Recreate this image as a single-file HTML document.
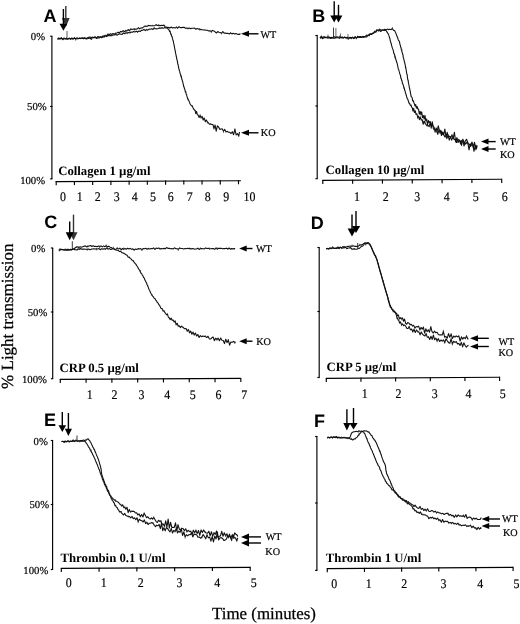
<!DOCTYPE html>
<html><head><meta charset="utf-8"><style>
html,body{margin:0;padding:0;background:#fff;width:520px;height:624px;overflow:hidden}
svg{display:block;will-change:transform}
text{fill:#000;text-rendering:geometricPrecision}
</style></head><body>
<svg width="520" height="624" viewBox="0 0 520 624">
<rect width="520" height="624" fill="#fff"/>
<text x="43.5" y="21.6" font-size="18" font-family="'Liberation Sans', sans-serif" font-weight="bold" text-anchor="start" >A</text>
<line x1="65.80" y1="6.10" x2="65.80" y2="18.90" stroke="#333" stroke-width="1.4"/>
<path d="M61.90,17.90 L69.70,17.90 L65.80,27.00 Z" fill="#333"/>
<line x1="63.40" y1="9.00" x2="63.40" y2="24.70" stroke="#000" stroke-width="1.4"/>
<path d="M59.50,23.70 L67.30,23.70 L63.40,30.80 Z" fill="#000"/>
<line x1="51.90" y1="36.20" x2="51.90" y2="178.90" stroke="#000" stroke-width="1.15"/>
<line x1="50.10" y1="36.20" x2="52.40" y2="36.20" stroke="#000" stroke-width="1.15"/>
<line x1="50.10" y1="106.50" x2="52.40" y2="106.50" stroke="#000" stroke-width="1.15"/>
<line x1="50.10" y1="178.90" x2="52.40" y2="178.90" stroke="#000" stroke-width="1.15"/>
<line x1="55.70" y1="181.60" x2="240.90" y2="180.70" stroke="#000" stroke-width="1.15"/>
<line x1="56.20" y1="181.10" x2="56.20" y2="185.20" stroke="#000" stroke-width="1.15"/>
<line x1="74.43" y1="181.01" x2="74.43" y2="185.11" stroke="#000" stroke-width="1.15"/>
<line x1="92.66" y1="180.92" x2="92.66" y2="185.02" stroke="#000" stroke-width="1.15"/>
<line x1="110.89" y1="180.83" x2="110.89" y2="184.93" stroke="#000" stroke-width="1.15"/>
<line x1="129.12" y1="180.74" x2="129.12" y2="184.84" stroke="#000" stroke-width="1.15"/>
<line x1="147.35" y1="180.65" x2="147.35" y2="184.75" stroke="#000" stroke-width="1.15"/>
<line x1="165.58" y1="180.56" x2="165.58" y2="184.66" stroke="#000" stroke-width="1.15"/>
<line x1="183.81" y1="180.47" x2="183.81" y2="184.57" stroke="#000" stroke-width="1.15"/>
<line x1="202.04" y1="180.38" x2="202.04" y2="184.48" stroke="#000" stroke-width="1.15"/>
<line x1="220.27" y1="180.29" x2="220.27" y2="184.39" stroke="#000" stroke-width="1.15"/>
<line x1="238.50" y1="180.20" x2="238.50" y2="184.30" stroke="#000" stroke-width="1.15"/>
<text transform="translate(63.0,200.9) scale(0.91,1)" font-size="13.1" font-family="'Liberation Serif', serif" text-anchor="middle" stroke="#000" stroke-width="0.18">0</text>
<text transform="translate(79.7,200.9) scale(0.91,1)" font-size="13.1" font-family="'Liberation Serif', serif" text-anchor="middle" stroke="#000" stroke-width="0.18">1</text>
<text transform="translate(97.7,200.9) scale(0.91,1)" font-size="13.1" font-family="'Liberation Serif', serif" text-anchor="middle" stroke="#000" stroke-width="0.18">2</text>
<text transform="translate(116.8,200.9) scale(0.91,1)" font-size="13.1" font-family="'Liberation Serif', serif" text-anchor="middle" stroke="#000" stroke-width="0.18">3</text>
<text transform="translate(134.6,200.9) scale(0.91,1)" font-size="13.1" font-family="'Liberation Serif', serif" text-anchor="middle" stroke="#000" stroke-width="0.18">4</text>
<text transform="translate(153.0,200.9) scale(0.91,1)" font-size="13.1" font-family="'Liberation Serif', serif" text-anchor="middle" stroke="#000" stroke-width="0.18">5</text>
<text transform="translate(170.8,200.9) scale(0.91,1)" font-size="13.1" font-family="'Liberation Serif', serif" text-anchor="middle" stroke="#000" stroke-width="0.18">6</text>
<text transform="translate(189.7,200.9) scale(0.91,1)" font-size="13.1" font-family="'Liberation Serif', serif" text-anchor="middle" stroke="#000" stroke-width="0.18">7</text>
<text transform="translate(207.7,200.9) scale(0.91,1)" font-size="13.1" font-family="'Liberation Serif', serif" text-anchor="middle" stroke="#000" stroke-width="0.18">8</text>
<text transform="translate(226.2,200.9) scale(0.91,1)" font-size="13.1" font-family="'Liberation Serif', serif" text-anchor="middle" stroke="#000" stroke-width="0.18">9</text>
<text transform="translate(249.4,200.9) scale(0.91,1)" font-size="13.1" font-family="'Liberation Serif', serif" text-anchor="middle" stroke="#000" stroke-width="0.18">10</text>
<text x="45.1" y="40.0" font-size="10.7" font-family="'Liberation Serif', serif" font-weight="normal" text-anchor="end" stroke="#000" stroke-width="0.2">0%</text>
<text x="46.7" y="109.8" font-size="10.7" font-family="'Liberation Serif', serif" font-weight="normal" text-anchor="end" stroke="#000" stroke-width="0.2">50%</text>
<text x="45.1" y="183.6" font-size="10.7" font-family="'Liberation Serif', serif" font-weight="normal" text-anchor="end" stroke="#000" stroke-width="0.2">100%</text>
<text x="58.2" y="175.0" font-size="12.75" font-family="'Liberation Serif', serif" font-weight="bold" text-anchor="start" >Collagen 1 µg/ml</text>
<line x1="67.00" y1="31.00" x2="67.00" y2="37.50" stroke="#333" stroke-width="0.8"/>
<path d="M57.50,39.09 L58.80,38.84 L60.10,38.92 L61.40,38.20 L62.70,39.04 L64.00,38.35 L65.30,38.80 L66.60,38.55 L67.90,39.07 L69.20,38.29 L70.50,38.67 L71.80,38.02 L73.10,38.69 L74.40,38.30 L75.69,39.04 L76.99,38.49 L78.29,38.62 L79.59,38.05 L80.89,38.18 L82.19,37.94 L83.49,38.29 L84.79,37.64 L86.08,38.99 L87.38,38.02 L88.68,37.22 L89.98,37.09 L91.27,37.55 L92.57,37.33 L93.87,37.46 L95.16,37.28 L96.46,38.38 L97.75,36.43 L99.05,37.02 L100.34,36.88 L101.62,36.99 L102.90,36.03 L104.17,36.12 L105.43,35.24 L106.68,35.79 L107.93,33.99 L109.19,34.69 L110.45,33.78 L111.72,34.39 L112.99,33.55 L114.26,34.13 L115.53,33.26 L116.81,33.20 L118.07,32.14 L119.34,32.98 L120.61,31.38 L121.87,31.94 L123.12,30.67 L124.38,31.78 L125.64,30.63 L126.89,30.95 L128.16,29.50 L129.43,30.85 L130.70,28.91 L131.99,29.53 L133.28,29.08 L134.57,29.42 L135.86,29.08 L137.15,29.06 L138.44,27.68 L139.72,28.88 L140.98,27.90 L142.20,27.96 L143.40,27.15 L144.60,26.32 L145.84,26.16 L147.11,26.44 L148.40,25.35 L149.69,25.66 L150.99,25.74 L152.28,25.72 L153.58,25.68 L154.88,25.42 L156.18,24.68 L157.48,25.43 L158.78,25.16 L160.08,25.81 L161.38,25.24 L162.68,25.49 L163.96,25.11 L165.13,26.84 L166.06,26.97 L167.30,27.41 L168.59,27.41 L169.89,27.87 L171.19,26.97 L172.49,27.99 L173.79,27.56 L175.09,28.11 L176.39,27.26 L177.69,28.19 L178.99,26.61 L180.29,27.67 L181.59,27.63 L182.89,27.40 L184.19,27.25 L185.49,28.33 L186.78,27.91 L188.08,28.53 L189.38,28.03 L190.67,28.65 L191.97,28.28 L193.26,28.30 L194.56,28.11 L195.85,29.27 L197.14,28.54 L198.43,29.08 L199.72,29.06 L201.00,29.66 L202.29,29.79 L203.57,29.95 L204.86,29.90 L206.14,30.31 L207.42,30.31 L208.70,31.02 L209.98,30.67 L211.26,31.55 L212.54,30.41 L213.82,30.90 L215.10,31.94 L216.38,33.03 L217.67,31.57 L218.95,32.26 L220.24,32.57 L221.54,33.37 L222.83,31.51 L224.12,33.11 L225.42,32.94 L226.71,33.40 L228.01,33.37 L229.30,34.04 L230.60,33.06 L231.89,33.87 L233.19,33.31 L234.48,33.95 L235.78,33.46 L237.07,34.10 L238.37,34.40 L239.67,34.33 L240.00,34.03" fill="none" stroke="#111" stroke-width="1.1" stroke-linejoin="round"/>
<path d="M66.6,37.1v2.1M75.7,38.3v2.3M83.5,37.5v1.6M93.9,36.6v1.9M104.2,34.9v2.6M115.5,32.7v1.3M125.6,29.8v2.1M134.6,28.0v2.5M144.6,25.9v1.3M152.3,24.8v1.4M158.8,24.6v1.7M169.9,27.5v1.3M176.4,26.4v1.6M188.1,27.9v1.6M199.7,28.3v2.2M211.3,30.7v2.4M221.5,32.8v1.5M230.6,32.1v1.9M240.0,33.1v1.5" stroke="#333" stroke-width="0.8" fill="none"/>
<path d="M57.50,39.06 L58.80,37.91 L60.10,38.74 L61.40,37.68 L62.70,39.78 L64.00,38.36 L65.30,38.83 L66.60,38.72 L67.90,39.13 L69.20,38.23 L70.50,39.43 L71.80,38.47 L73.10,39.19 L74.40,37.69 L75.70,38.84 L77.00,38.08 L78.30,38.74 L79.60,38.33 L80.90,38.59 L82.20,37.93 L83.50,38.75 L84.80,38.30 L86.09,38.74 L87.39,37.94 L88.69,38.42 L89.99,37.89 L91.29,39.44 L92.59,37.34 L93.89,37.68 L95.18,36.82 L96.48,38.24 L97.78,37.54 L99.07,38.08 L100.37,37.02 L101.66,37.74 L102.94,36.95 L104.21,36.94 L105.47,35.74 L106.73,36.61 L107.98,35.39 L109.25,35.75 L110.53,35.55 L111.82,35.73 L113.11,34.68 L114.40,34.97 L115.70,34.52 L116.99,35.06 L118.28,34.59 L119.57,33.83 L120.85,34.29 L122.13,34.37 L123.41,32.94 L124.68,33.77 L125.95,32.76 L127.23,32.93 L128.51,32.54 L129.79,32.96 L131.07,32.00 L132.36,32.30 L133.65,31.49 L134.95,32.10 L136.24,31.10 L137.53,31.98 L138.82,30.96 L140.11,31.49 L141.39,30.37 L142.67,30.31 L143.95,29.37 L145.23,30.59 L146.51,29.53 L147.79,30.18 L149.07,29.16 L150.36,29.29 L151.65,28.82 L152.94,29.46 L154.23,28.22 L155.52,28.68 L156.81,28.85 L158.10,28.50 L159.40,27.88 L160.69,28.33 L161.98,27.79 L163.28,28.36 L164.58,27.60 L165.87,27.96 L167.11,27.68 L168.05,28.99 L168.83,29.62 L169.50,31.43 L170.11,31.06 L170.66,33.80 L171.17,34.15 L171.63,36.29 L172.04,36.38 L172.40,38.39 L172.72,39.26 L173.02,40.66 L173.31,40.98 L173.59,43.18 L173.87,43.94 L174.16,45.42 L174.43,46.87 L174.70,48.73 L174.96,49.18 L175.21,51.22 L175.47,52.43 L175.72,53.94 L175.97,54.38 L176.22,56.51 L176.48,56.72 L176.74,59.17 L177.00,59.14 L177.26,61.27 L177.53,61.85 L177.79,64.08 L178.06,64.37 L178.33,66.03 L178.61,67.74 L178.90,68.95 L179.21,69.80 L179.53,71.14 L179.88,72.05 L180.25,74.03 L180.63,74.56 L181.01,76.48 L181.39,76.59 L181.76,79.05 L182.11,79.75 L182.44,80.99 L182.77,81.99 L183.10,83.72 L183.43,84.76 L183.77,86.84 L184.13,87.08 L184.50,88.85 L184.90,89.56 L185.32,91.90 L185.73,91.65 L186.11,94.02 L186.48,94.22 L186.87,95.88 L187.28,97.31 L187.74,98.99 L188.27,99.82 L188.85,100.67 L189.49,102.33 L190.16,104.01 L190.86,105.02 L191.56,105.99 L192.26,105.79 L192.95,107.66 L193.64,108.88 L194.34,110.09 L195.05,110.04 L195.77,113.54 L196.53,111.48 L197.33,114.58 L198.19,115.25 L199.12,117.51 L200.10,115.37 L201.12,118.02 L202.15,116.38 L203.19,120.04 L204.22,117.95 L205.27,121.63 L206.33,119.94 L207.41,122.01 L208.49,123.00 L209.58,124.27 L210.67,123.89 L211.76,124.44 L212.86,124.51 L213.96,128.35 L215.08,125.03 L216.22,131.23 L217.38,125.91 L218.57,127.02 L219.79,129.35 L221.02,128.99 L222.27,128.90 L223.52,131.29 L224.77,129.38 L226.02,131.94 L227.28,131.37 L228.53,132.28 L229.79,132.30 L231.05,133.51 L232.31,131.70 L233.59,134.71 L234.87,129.27 L236.16,134.99 L237.46,133.49 L238.76,136.16 L239.50,132.02" fill="none" stroke="#111" stroke-width="1.1" stroke-linejoin="round"/>
<path d="M64.0,37.5v1.9M77.0,37.1v1.6M87.4,37.2v2.2M97.8,36.2v2.6M105.5,35.2v1.3M117.0,34.7v1.2M127.2,31.8v2.4M137.5,31.3v1.6M146.5,28.8v1.5M154.2,26.8v2.5M162.0,26.9v1.5M170.7,33.3v1.6M181.0,75.2v2.0M188.3,98.4v2.3M200.1,114.3v2.2M207.4,121.4v2.1M214.0,127.7v1.8M223.5,130.4v2.4M234.9,128.4v2.6" stroke="#333" stroke-width="0.8" fill="none"/>
<path d="M241.00,33.80 L249.00,30.81 L249.00,36.79 Z" fill="#000"/>
<line x1="248.50" y1="33.80" x2="258.50" y2="33.80" stroke="#000" stroke-width="1.4"/>
<path d="M241.00,132.80 L249.00,129.81 L249.00,135.79 Z" fill="#000"/>
<line x1="248.50" y1="132.80" x2="258.50" y2="132.80" stroke="#000" stroke-width="1.4"/>
<text x="260.5" y="37.5" font-size="10.2" font-family="'Liberation Serif', serif" font-weight="normal" text-anchor="start" stroke="#000" stroke-width="0.2">WT</text>
<text x="260.8" y="136.4" font-size="10.2" font-family="'Liberation Serif', serif" font-weight="normal" text-anchor="start" stroke="#000" stroke-width="0.2">KO</text>
<text x="312.2" y="22.0" font-size="18" font-family="'Liberation Sans', sans-serif" font-weight="bold" text-anchor="start" >B</text>
<line x1="338.50" y1="4.80" x2="338.50" y2="16.40" stroke="#000" stroke-width="1.4"/>
<path d="M334.60,15.40 L342.40,15.40 L338.50,22.40 Z" fill="#000"/>
<line x1="334.20" y1="1.30" x2="334.20" y2="16.40" stroke="#000" stroke-width="1.4"/>
<path d="M330.30,15.40 L338.10,15.40 L334.20,22.40 Z" fill="#000"/>
<line x1="317.20" y1="35.50" x2="317.20" y2="178.70" stroke="#000" stroke-width="1.15"/>
<line x1="315.40" y1="35.50" x2="317.70" y2="35.50" stroke="#000" stroke-width="1.15"/>
<line x1="315.40" y1="106.00" x2="317.70" y2="106.00" stroke="#000" stroke-width="1.15"/>
<line x1="315.40" y1="178.70" x2="317.70" y2="178.70" stroke="#000" stroke-width="1.15"/>
<line x1="322.30" y1="180.40" x2="501.72" y2="179.30" stroke="#000" stroke-width="1.15"/>
<line x1="322.80" y1="179.90" x2="322.80" y2="184.00" stroke="#000" stroke-width="1.15"/>
<line x1="352.62" y1="179.72" x2="352.62" y2="183.82" stroke="#000" stroke-width="1.15"/>
<line x1="382.44" y1="179.53" x2="382.44" y2="183.63" stroke="#000" stroke-width="1.15"/>
<line x1="412.26" y1="179.35" x2="412.26" y2="183.45" stroke="#000" stroke-width="1.15"/>
<line x1="442.08" y1="179.17" x2="442.08" y2="183.27" stroke="#000" stroke-width="1.15"/>
<line x1="471.90" y1="178.98" x2="471.90" y2="183.08" stroke="#000" stroke-width="1.15"/>
<line x1="501.72" y1="178.80" x2="501.72" y2="182.90" stroke="#000" stroke-width="1.15"/>
<text transform="translate(357.0,200.8) scale(0.91,1)" font-size="13.1" font-family="'Liberation Serif', serif" text-anchor="middle" stroke="#000" stroke-width="0.18">1</text>
<text transform="translate(385.6,200.8) scale(0.91,1)" font-size="13.1" font-family="'Liberation Serif', serif" text-anchor="middle" stroke="#000" stroke-width="0.18">2</text>
<text transform="translate(417.1,200.8) scale(0.91,1)" font-size="13.1" font-family="'Liberation Serif', serif" text-anchor="middle" stroke="#000" stroke-width="0.18">3</text>
<text transform="translate(446.8,200.8) scale(0.91,1)" font-size="13.1" font-family="'Liberation Serif', serif" text-anchor="middle" stroke="#000" stroke-width="0.18">4</text>
<text transform="translate(475.8,200.8) scale(0.91,1)" font-size="13.1" font-family="'Liberation Serif', serif" text-anchor="middle" stroke="#000" stroke-width="0.18">5</text>
<text transform="translate(504.7,200.8) scale(0.91,1)" font-size="13.1" font-family="'Liberation Serif', serif" text-anchor="middle" stroke="#000" stroke-width="0.18">6</text>
<text x="325.6" y="173.7" font-size="12.75" font-family="'Liberation Serif', serif" font-weight="bold" text-anchor="start" >Collagen 10 µg/ml</text>
<line x1="333.50" y1="27.60" x2="333.50" y2="37.00" stroke="#222" stroke-width="0.9"/>
<line x1="335.90" y1="28.00" x2="335.90" y2="37.00" stroke="#555" stroke-width="0.9"/>
<line x1="328.00" y1="34.50" x2="328.00" y2="37.00" stroke="#444" stroke-width="0.8"/>
<line x1="340.50" y1="33.50" x2="340.50" y2="37.00" stroke="#444" stroke-width="0.8"/>
<line x1="348.00" y1="34.00" x2="348.00" y2="37.00" stroke="#444" stroke-width="0.8"/>
<path d="M320.00,38.27 L321.30,35.98 L322.60,37.98 L323.90,36.50 L325.20,37.35 L326.50,37.25 L327.80,36.95 L329.10,37.10 L330.40,37.41 L331.70,38.19 L333.00,37.48 L334.30,36.71 L335.60,37.58 L336.90,36.82 L338.20,37.35 L339.50,36.93 L340.80,37.80 L342.10,36.92 L343.40,37.79 L344.70,37.09 L346.00,37.67 L347.29,37.83 L348.59,38.40 L349.89,37.36 L351.19,37.57 L352.49,37.53 L353.79,38.56 L355.09,36.99 L356.39,37.85 L357.68,37.20 L358.98,36.83 L360.27,36.45 L361.57,37.08 L362.85,36.50 L364.14,36.61 L365.41,36.16 L366.66,35.12 L367.88,35.65 L369.06,34.62 L370.21,33.70 L371.36,34.01 L372.50,33.12 L373.59,32.97 L374.65,31.18 L375.73,31.27 L376.87,29.76 L378.11,30.67 L379.40,29.14 L380.70,29.82 L382.00,30.04 L383.30,30.13 L384.60,29.30 L385.90,30.02 L387.19,29.11 L388.49,29.60 L389.79,29.26 L391.09,29.66 L392.39,28.53 L393.63,30.45 L394.70,30.61 L395.29,31.88 L395.70,32.91 L396.18,34.11 L396.70,35.53 L397.20,36.83 L397.69,37.61 L398.17,39.72 L398.62,40.39 L399.06,41.02 L399.49,41.82 L399.90,44.21 L400.29,45.08 L400.66,47.17 L401.01,47.45 L401.35,50.00 L401.69,49.81 L402.01,52.22 L402.33,52.75 L402.64,54.21 L402.95,54.43 L403.25,57.73 L403.55,58.04 L403.85,59.36 L404.14,60.37 L404.43,62.04 L404.72,62.55 L405.00,64.36 L405.27,64.96 L405.53,67.65 L405.78,67.29 L406.01,69.13 L406.24,70.12 L406.47,72.21 L406.69,73.30 L406.93,74.34 L407.17,74.46 L407.41,77.10 L407.64,78.54 L407.87,80.21 L408.10,79.88 L408.34,82.09 L408.58,83.45 L408.84,84.63 L409.10,85.56 L409.37,87.95 L409.64,88.30 L409.92,90.44 L410.19,90.74 L410.48,93.37 L410.78,94.45 L411.09,95.95 L411.43,96.70 L411.80,97.33 L412.22,97.92 L412.69,100.82 L413.20,100.54 L413.77,102.25 L414.39,103.93 L415.04,105.98 L415.70,104.56 L416.38,108.11 L417.08,106.51 L417.80,109.02 L418.55,109.09 L419.31,114.20 L420.09,111.32 L420.89,114.49 L421.69,111.93 L422.50,117.67 L423.32,115.57 L424.15,119.16 L424.98,115.43 L425.83,121.15 L426.69,118.97 L427.55,124.64 L428.44,120.50 L429.34,122.49 L430.26,121.57 L431.20,125.78 L432.16,123.60 L433.14,125.95 L434.13,127.32 L435.14,132.22 L436.17,127.91 L437.20,131.26 L438.25,125.90 L439.31,130.22 L440.40,130.52 L441.49,135.52 L442.61,131.99 L443.73,134.54 L444.87,129.15 L446.02,137.07 L447.19,132.35 L448.37,137.09 L449.56,136.24 L450.76,137.48 L451.97,134.92 L453.18,138.54 L454.40,132.20 L455.63,141.85 L456.87,137.67 L458.11,142.56 L459.36,140.11 L460.61,143.86 L461.87,140.30 L463.12,140.33 L464.38,142.43 L465.64,144.10 L466.91,142.15 L468.17,143.90 L469.44,144.19 L470.70,146.36 L471.97,141.94 L473.24,147.36 L474.51,142.31 L475.77,148.88 L477.00,145.02" fill="none" stroke="#111" stroke-width="1.1" stroke-linejoin="round"/>
<path d="M327.8,36.2v1.5M339.5,35.7v1.9M347.3,37.0v2.4M355.1,36.1v2.2M362.9,35.7v1.3M369.1,33.8v1.3M380.7,29.2v1.7M392.4,27.2v2.3M401.7,48.5v1.9M411.1,95.5v1.3M420.9,113.3v2.2M432.2,122.9v1.6M440.4,129.8v1.7M452.0,134.4v1.4M463.1,139.6v1.8M475.8,147.9v2.5" stroke="#333" stroke-width="0.8" fill="none"/>
<path d="M320.00,38.16 L321.30,37.44 L322.60,38.70 L323.90,37.67 L325.20,37.38 L326.50,37.71 L327.80,37.86 L329.10,37.77 L330.40,38.39 L331.70,37.21 L333.00,38.17 L334.30,38.10 L335.60,37.93 L336.90,37.76 L338.20,37.77 L339.50,38.20 L340.80,37.26 L342.10,37.90 L343.40,38.02 L344.70,37.32 L346.00,38.11 L347.30,37.23 L348.60,38.22 L349.90,37.86 L351.19,38.60 L352.49,37.06 L353.79,38.39 L355.09,36.89 L356.39,38.34 L357.69,36.23 L358.99,37.58 L360.29,37.37 L361.58,37.45 L362.87,36.92 L364.16,37.16 L365.44,36.74 L366.69,36.90 L367.92,35.24 L369.10,35.55 L370.25,34.16 L371.41,34.54 L372.57,33.85 L373.69,33.07 L374.78,32.05 L375.90,32.14 L377.07,30.13 L378.32,30.89 L379.60,30.45 L380.90,31.46 L382.20,29.99 L383.50,30.31 L384.79,30.33 L385.95,30.51 L386.81,31.62 L387.53,32.99 L388.15,33.65 L388.69,35.15 L389.16,36.30 L389.56,37.79 L389.91,38.67 L390.24,40.81 L390.56,41.28 L390.88,42.99 L391.20,43.23 L391.55,45.43 L391.91,46.45 L392.28,47.74 L392.66,48.92 L393.05,49.92 L393.44,50.93 L393.83,53.60 L394.21,53.72 L394.60,54.79 L394.98,56.78 L395.36,57.76 L395.73,58.73 L396.10,60.54 L396.45,61.20 L396.80,62.56 L397.14,63.04 L397.48,65.02 L397.81,66.23 L398.15,68.45 L398.48,69.25 L398.81,69.95 L399.14,71.38 L399.48,72.57 L399.81,73.71 L400.16,74.79 L400.52,75.61 L400.88,78.44 L401.25,78.45 L401.64,80.47 L402.03,80.72 L402.43,83.30 L402.82,83.81 L403.22,85.12 L403.62,86.27 L404.01,88.02 L404.39,88.53 L404.77,90.57 L405.13,90.89 L405.50,93.20 L405.86,93.61 L406.23,95.29 L406.61,96.32 L407.00,98.15 L407.41,98.58 L407.87,99.50 L408.37,101.07 L408.95,102.98 L409.62,103.46 L410.31,105.33 L410.97,105.17 L411.63,107.14 L412.31,107.95 L413.01,111.11 L413.73,108.28 L414.49,112.54 L415.28,110.87 L416.08,114.56 L416.90,113.83 L417.74,117.55 L418.59,116.07 L419.46,119.67 L420.35,116.90 L421.27,120.08 L422.20,119.71 L423.15,124.25 L424.12,120.99 L425.11,123.33 L426.10,124.68 L427.11,126.01 L428.13,125.53 L429.15,126.62 L430.19,122.30 L431.24,128.19 L432.31,121.71 L433.38,128.89 L434.47,129.39 L435.56,130.13 L436.67,131.28 L437.77,134.25 L438.88,129.86 L440.00,133.18 L441.13,130.70 L442.27,134.24 L443.41,134.37 L444.56,136.61 L445.72,135.74 L446.89,138.57 L448.07,134.80 L449.26,140.14 L450.46,136.86 L451.66,140.14 L452.87,136.83 L454.09,139.65 L455.32,139.26 L456.56,142.53 L457.80,139.03 L459.05,140.30 L460.30,140.77 L461.55,145.44 L462.79,139.42 L464.04,146.05 L465.28,140.81 L466.52,139.29 L467.77,142.18 L469.01,149.86 L470.26,143.75 L471.50,145.16 L472.74,143.83 L473.99,151.30 L475.23,145.28 L476.48,148.85 L477.00,145.98" fill="none" stroke="#111" stroke-width="1.1" stroke-linejoin="round"/>
<path d="M327.8,36.7v2.0M339.5,37.3v1.2M348.6,37.4v2.5M356.4,37.3v2.0M369.1,34.9v1.6M379.6,29.5v1.4M387.5,32.3v1.2M395.0,55.9v2.5M404.0,87.0v2.0M411.0,104.5v1.9M417.7,116.6v2.5M425.1,122.5v1.2M436.7,129.9v2.2M444.6,135.4v2.0M452.9,135.5v2.2M462.8,138.8v2.1M471.5,144.4v1.7" stroke="#333" stroke-width="0.8" fill="none"/>
<path d="M481.00,141.60 L488.50,138.61 L488.50,144.59 Z" fill="#000"/>
<line x1="488.00" y1="141.60" x2="495.70" y2="141.60" stroke="#000" stroke-width="1.4"/>
<path d="M481.00,149.00 L488.50,146.01 L488.50,151.99 Z" fill="#000"/>
<line x1="488.00" y1="149.00" x2="495.70" y2="149.00" stroke="#000" stroke-width="1.4"/>
<text x="500.0" y="144.8" font-size="10.2" font-family="'Liberation Serif', serif" font-weight="normal" text-anchor="start" stroke="#000" stroke-width="0.2">WT</text>
<text x="500.0" y="157.8" font-size="10.2" font-family="'Liberation Serif', serif" font-weight="normal" text-anchor="start" stroke="#000" stroke-width="0.2">KO</text>
<text x="44.3" y="228.4" font-size="18" font-family="'Liberation Sans', sans-serif" font-weight="bold" text-anchor="start" >C</text>
<line x1="73.50" y1="214.60" x2="73.50" y2="233.30" stroke="#333" stroke-width="1.4"/>
<path d="M69.50,232.30 L77.50,232.30 L73.50,240.30 Z" fill="#333"/>
<line x1="69.70" y1="221.50" x2="69.70" y2="233.30" stroke="#000" stroke-width="1.4"/>
<path d="M65.70,232.30 L73.70,232.30 L69.70,240.30 Z" fill="#000"/>
<line x1="52.70" y1="248.00" x2="52.70" y2="378.70" stroke="#000" stroke-width="1.15"/>
<line x1="50.90" y1="248.00" x2="53.20" y2="248.00" stroke="#000" stroke-width="1.15"/>
<line x1="50.90" y1="312.00" x2="53.20" y2="312.00" stroke="#000" stroke-width="1.15"/>
<line x1="50.90" y1="378.70" x2="53.20" y2="378.70" stroke="#000" stroke-width="1.15"/>
<line x1="59.80" y1="379.40" x2="240.83" y2="378.40" stroke="#000" stroke-width="1.15"/>
<line x1="60.30" y1="378.90" x2="60.30" y2="383.00" stroke="#000" stroke-width="1.15"/>
<line x1="86.09" y1="378.76" x2="86.09" y2="382.86" stroke="#000" stroke-width="1.15"/>
<line x1="111.88" y1="378.61" x2="111.88" y2="382.71" stroke="#000" stroke-width="1.15"/>
<line x1="137.67" y1="378.47" x2="137.67" y2="382.57" stroke="#000" stroke-width="1.15"/>
<line x1="163.46" y1="378.33" x2="163.46" y2="382.43" stroke="#000" stroke-width="1.15"/>
<line x1="189.25" y1="378.19" x2="189.25" y2="382.29" stroke="#000" stroke-width="1.15"/>
<line x1="215.04" y1="378.04" x2="215.04" y2="382.14" stroke="#000" stroke-width="1.15"/>
<line x1="240.83" y1="377.90" x2="240.83" y2="382.00" stroke="#000" stroke-width="1.15"/>
<text transform="translate(89.7,399.2) scale(0.91,1)" font-size="13.1" font-family="'Liberation Serif', serif" text-anchor="middle" stroke="#000" stroke-width="0.18">1</text>
<text transform="translate(114.5,399.2) scale(0.91,1)" font-size="13.1" font-family="'Liberation Serif', serif" text-anchor="middle" stroke="#000" stroke-width="0.18">2</text>
<text transform="translate(141.5,399.2) scale(0.91,1)" font-size="13.1" font-family="'Liberation Serif', serif" text-anchor="middle" stroke="#000" stroke-width="0.18">3</text>
<text transform="translate(167.2,399.2) scale(0.91,1)" font-size="13.1" font-family="'Liberation Serif', serif" text-anchor="middle" stroke="#000" stroke-width="0.18">4</text>
<text transform="translate(192.6,399.2) scale(0.91,1)" font-size="13.1" font-family="'Liberation Serif', serif" text-anchor="middle" stroke="#000" stroke-width="0.18">5</text>
<text transform="translate(218.5,399.2) scale(0.91,1)" font-size="13.1" font-family="'Liberation Serif', serif" text-anchor="middle" stroke="#000" stroke-width="0.18">6</text>
<text transform="translate(244.3,399.2) scale(0.91,1)" font-size="13.1" font-family="'Liberation Serif', serif" text-anchor="middle" stroke="#000" stroke-width="0.18">7</text>
<text x="45.3" y="252.4" font-size="10.7" font-family="'Liberation Serif', serif" font-weight="normal" text-anchor="end" stroke="#000" stroke-width="0.2">0%</text>
<text x="47.3" y="315.6" font-size="10.7" font-family="'Liberation Serif', serif" font-weight="normal" text-anchor="end" stroke="#000" stroke-width="0.2">50%</text>
<text x="46.9" y="383.2" font-size="10.7" font-family="'Liberation Serif', serif" font-weight="normal" text-anchor="end" stroke="#000" stroke-width="0.2">100%</text>
<text x="59.6" y="372.2" font-size="12.75" font-family="'Liberation Serif', serif" font-weight="bold" text-anchor="start" >CRP 0.5 µg/ml</text>
<line x1="72.30" y1="241.20" x2="72.30" y2="249.00" stroke="#222" stroke-width="0.9"/>
<path d="M58.75,249.45 L60.05,249.01 L61.35,249.81 L62.65,249.53 L63.95,250.07 L65.25,249.32 L66.55,249.87 L67.85,249.27 L69.15,250.12 L70.45,249.17 L71.75,249.84 L73.05,248.73 L74.35,249.60 L75.65,249.74 L76.95,250.00 L78.25,248.75 L79.55,249.46 L80.85,248.47 L82.15,249.39 L83.45,249.05 L84.75,249.16 L86.05,249.24 L87.35,249.51 L88.65,248.98 L89.95,249.65 L91.25,249.17 L92.55,249.07 L93.85,248.70 L95.15,248.93 L96.45,248.84 L97.75,249.00 L99.05,248.54 L100.35,249.74 L101.65,248.69 L102.95,249.13 L104.25,248.65 L105.55,249.22 L106.85,247.89 L108.15,249.26 L109.45,248.60 L110.75,249.50 L112.05,249.12 L113.35,248.55 L114.65,249.01 L115.95,249.30 L117.25,248.22 L118.55,249.11 L119.85,248.11 L121.15,249.75 L122.45,248.50 L123.75,249.31 L125.05,248.56 L126.35,249.20 L127.65,248.23 L128.95,248.89 L130.25,248.32 L131.55,249.34 L132.85,248.86 L134.15,250.03 L135.45,248.94 L136.75,249.44 L138.05,248.62 L139.35,249.10 L140.65,248.55 L141.95,249.79 L143.25,248.44 L144.55,248.77 L145.85,248.31 L147.15,249.21 L148.45,248.39 L149.75,248.93 L151.05,248.52 L152.35,248.78 L153.65,247.87 L154.95,249.48 L156.25,248.07 L157.55,248.49 L158.85,247.97 L160.15,248.95 L161.45,248.54 L162.75,248.71 L164.05,248.37 L165.35,248.79 L166.65,247.45 L167.95,248.40 L169.25,248.37 L170.55,248.79 L171.85,248.50 L173.15,249.03 L174.45,247.79 L175.75,248.66 L177.05,248.68 L178.35,249.31 L179.65,247.93 L180.95,248.53 L182.25,248.49 L183.55,248.91 L184.85,248.56 L186.15,248.69 L187.45,248.26 L188.75,248.59 L190.05,248.39 L191.35,248.88 L192.65,248.50 L193.95,249.08 L195.25,248.96 L196.55,248.94 L197.85,248.16 L199.15,249.47 L200.45,248.45 L201.75,248.58 L203.05,248.78 L204.35,248.90 L205.65,247.89 L206.95,248.46 L208.25,248.22 L209.55,248.71 L210.85,248.73 L212.15,248.58 L213.45,248.57 L214.75,249.35 L216.05,247.94 L217.35,249.07 L218.65,248.20 L219.95,248.40 L221.25,248.27 L222.54,248.70 L223.84,248.54 L225.14,248.58 L226.44,248.15 L227.74,248.97 L229.04,247.99 L230.34,249.13 L231.64,248.62 L232.94,248.87 L234.24,248.50 L235.00,249.24" fill="none" stroke="#111" stroke-width="1.1" stroke-linejoin="round"/>
<path d="M67.8,248.6v1.6M79.5,248.2v1.9M87.3,248.4v2.3M96.4,248.0v2.4M105.5,248.5v1.5M117.2,247.1v1.8M123.7,247.5v2.6M134.1,249.2v1.5M141.9,249.2v1.7M148.4,247.9v1.4M160.1,248.0v1.5M166.6,247.0v1.3M178.3,248.6v2.3M190.0,247.8v1.5M200.4,247.4v1.5M209.5,247.6v2.0M217.3,247.5v2.2M227.7,248.2v1.3" stroke="#333" stroke-width="0.8" fill="none"/>
<path d="M58.75,251.09 L60.05,250.11 L61.35,249.21 L62.65,249.53 L63.95,250.07 L65.25,249.90 L66.55,250.11 L67.85,250.11 L69.15,250.03 L70.45,249.71 L71.74,249.91 L73.01,248.96 L74.19,249.06 L75.22,247.69 L76.35,247.18 L77.60,246.68 L78.89,247.45 L80.18,246.69 L81.48,247.22 L82.78,246.79 L84.08,246.24 L85.38,245.88 L86.68,246.90 L87.98,246.24 L89.28,246.05 L90.58,245.54 L91.88,246.47 L93.18,245.69 L94.48,246.54 L95.78,246.28 L97.08,246.73 L98.38,246.10 L99.68,246.63 L100.98,245.91 L102.28,246.93 L103.58,245.89 L104.87,246.67 L106.17,245.74 L107.47,247.01 L108.76,246.08 L110.02,247.19 L111.23,247.49 L112.29,248.34 L113.39,248.28 L114.58,249.55 L115.80,250.05 L117.03,250.23 L118.25,250.44 L119.47,251.55 L120.67,251.16 L121.84,252.76 L122.96,252.85 L124.02,253.52 L125.06,254.05 L126.10,254.85 L127.14,255.34 L128.18,257.29 L129.21,257.17 L130.22,258.36 L131.22,259.08 L132.19,260.30 L133.13,260.56 L134.01,262.16 L134.83,263.16 L135.59,263.84 L136.31,264.90 L136.99,266.00 L137.65,266.97 L138.30,268.41 L138.96,269.23 L139.63,270.56 L140.31,271.47 L140.99,273.19 L141.66,273.64 L142.32,274.95 L142.97,275.89 L143.61,277.56 L144.23,277.89 L144.83,279.86 L145.42,280.77 L145.97,282.16 L146.49,282.63 L146.99,284.74 L147.49,285.28 L147.98,286.52 L148.47,287.82 L148.98,289.25 L149.50,290.32 L150.06,291.40 L150.64,292.68 L151.27,294.01 L151.95,295.06 L152.67,296.09 L153.42,296.92 L154.19,298.34 L154.97,298.60 L155.77,300.12 L156.56,300.92 L157.34,302.55 L158.11,303.08 L158.84,304.80 L159.55,305.28 L160.25,306.88 L160.94,308.14 L161.64,308.46 L162.36,308.99 L163.12,311.15 L163.91,310.65 L164.74,312.34 L165.61,313.46 L166.50,314.80 L167.41,313.89 L168.33,317.09 L169.28,317.96 L170.23,319.64 L171.20,318.11 L172.17,320.33 L173.15,319.98 L174.14,322.01 L175.14,320.91 L176.15,324.82 L177.18,323.21 L178.21,325.97 L179.27,325.91 L180.35,327.57 L181.46,326.11 L182.60,327.01 L183.75,327.97 L184.92,328.84 L186.09,328.48 L187.26,330.92 L188.41,329.49 L189.57,332.84 L190.72,331.18 L191.87,334.27 L193.04,332.09 L194.22,335.07 L195.41,333.08 L196.63,336.03 L197.86,334.62 L199.10,337.42 L200.35,335.58 L201.61,336.69 L202.87,336.02 L204.15,336.42 L205.44,336.37 L206.73,337.54 L208.02,336.26 L209.31,338.88 L210.59,339.06 L211.86,337.82 L213.12,337.04 L214.38,340.66 L215.63,338.16 L216.88,339.71 L218.14,338.12 L219.40,340.73 L220.67,338.07 L221.93,340.24 L223.20,340.45 L224.47,343.61 L225.75,339.27 L227.03,342.62 L228.32,339.92 L229.61,345.11 L230.90,341.94 L232.19,342.33 L233.48,341.38 L234.77,342.69 L235.40,341.71" fill="none" stroke="#111" stroke-width="1.1" stroke-linejoin="round"/>
<path d="M65.2,248.7v2.3M76.3,246.1v1.8M88.0,245.0v2.3M99.7,245.7v2.3M106.2,244.6v2.5M113.4,246.7v2.4M124.0,252.6v1.3M133.1,260.1v1.3M140.3,269.9v2.4M152.0,294.2v1.7M162.4,308.5v1.7M169.3,317.3v1.3M178.2,325.6v1.2M187.3,329.9v2.1M197.9,334.0v2.0M205.4,335.5v1.7M216.9,338.1v2.4M228.3,339.0v1.8M234.8,341.3v2.5" stroke="#333" stroke-width="0.8" fill="none"/>
<path d="M239.20,248.50 L246.70,245.51 L246.70,251.49 Z" fill="#000"/>
<line x1="246.20" y1="248.50" x2="252.50" y2="248.50" stroke="#000" stroke-width="1.4"/>
<path d="M239.20,341.20 L246.70,338.21 L246.70,344.19 Z" fill="#000"/>
<line x1="246.20" y1="341.20" x2="252.50" y2="341.20" stroke="#000" stroke-width="1.4"/>
<text x="256.0" y="252.2" font-size="10.2" font-family="'Liberation Serif', serif" font-weight="normal" text-anchor="start" stroke="#000" stroke-width="0.2">WT</text>
<text x="256.2" y="345.2" font-size="10.2" font-family="'Liberation Serif', serif" font-weight="normal" text-anchor="start" stroke="#000" stroke-width="0.2">KO</text>
<text x="310.8" y="228.9" font-size="18" font-family="'Liberation Sans', sans-serif" font-weight="bold" text-anchor="start" >D</text>
<line x1="356.00" y1="211.00" x2="356.00" y2="227.00" stroke="#000" stroke-width="1.4"/>
<path d="M351.80,226.00 L360.20,226.00 L356.00,233.00 Z" fill="#000"/>
<line x1="352.00" y1="214.60" x2="352.00" y2="229.50" stroke="#000" stroke-width="1.4"/>
<path d="M347.60,228.50 L356.40,228.50 L352.00,236.50 Z" fill="#000"/>
<line x1="319.20" y1="247.50" x2="319.20" y2="377.50" stroke="#000" stroke-width="1.15"/>
<line x1="317.40" y1="247.50" x2="319.70" y2="247.50" stroke="#000" stroke-width="1.15"/>
<line x1="317.40" y1="311.50" x2="319.70" y2="311.50" stroke="#000" stroke-width="1.15"/>
<line x1="317.40" y1="377.50" x2="319.70" y2="377.50" stroke="#000" stroke-width="1.15"/>
<line x1="325.80" y1="378.40" x2="499.60" y2="377.30" stroke="#000" stroke-width="1.15"/>
<line x1="326.30" y1="377.90" x2="326.30" y2="382.00" stroke="#000" stroke-width="1.15"/>
<line x1="360.96" y1="377.68" x2="360.96" y2="381.78" stroke="#000" stroke-width="1.15"/>
<line x1="395.62" y1="377.46" x2="395.62" y2="381.56" stroke="#000" stroke-width="1.15"/>
<line x1="430.28" y1="377.24" x2="430.28" y2="381.34" stroke="#000" stroke-width="1.15"/>
<line x1="464.94" y1="377.02" x2="464.94" y2="381.12" stroke="#000" stroke-width="1.15"/>
<line x1="499.60" y1="376.80" x2="499.60" y2="380.90" stroke="#000" stroke-width="1.15"/>
<text transform="translate(364.6,397.7) scale(0.91,1)" font-size="13.1" font-family="'Liberation Serif', serif" text-anchor="middle" stroke="#000" stroke-width="0.18">1</text>
<text transform="translate(398.5,397.7) scale(0.91,1)" font-size="13.1" font-family="'Liberation Serif', serif" text-anchor="middle" stroke="#000" stroke-width="0.18">2</text>
<text transform="translate(434.6,397.7) scale(0.91,1)" font-size="13.1" font-family="'Liberation Serif', serif" text-anchor="middle" stroke="#000" stroke-width="0.18">3</text>
<text transform="translate(468.5,397.7) scale(0.91,1)" font-size="13.1" font-family="'Liberation Serif', serif" text-anchor="middle" stroke="#000" stroke-width="0.18">4</text>
<text transform="translate(502.7,397.7) scale(0.91,1)" font-size="13.1" font-family="'Liberation Serif', serif" text-anchor="middle" stroke="#000" stroke-width="0.18">5</text>
<text x="326.5" y="371.2" font-size="12.75" font-family="'Liberation Serif', serif" font-weight="bold" text-anchor="start" >CRP 5 µg/ml</text>
<line x1="357.70" y1="243.00" x2="357.70" y2="248.00" stroke="#222" stroke-width="0.9"/>
<path d="M326.10,248.74 L327.40,248.47 L328.69,248.84 L329.99,247.75 L331.28,248.70 L332.58,247.57 L333.88,248.41 L335.17,248.13 L336.47,248.17 L337.76,246.95 L339.06,247.76 L340.35,247.28 L341.65,247.99 L342.94,246.64 L344.23,247.05 L345.53,247.09 L346.82,246.72 L348.12,246.39 L349.41,246.23 L350.70,246.02 L352.00,246.22 L353.29,245.69 L354.59,246.37 L355.88,246.28 L357.18,246.59 L358.45,246.11 L359.66,245.18 L360.84,244.83 L362.01,244.83 L363.18,243.96 L364.37,243.15 L365.58,242.90 L366.85,242.93 L368.14,242.47 L369.26,243.70 L370.03,244.22 L370.63,245.88 L371.17,246.75 L371.69,248.08 L372.20,249.16 L372.70,250.48 L373.21,251.47 L373.74,252.76 L374.32,253.79 L374.95,255.32 L375.58,255.74 L376.14,257.72 L376.61,258.45 L377.01,259.83 L377.38,261.19 L377.73,262.80 L378.08,263.12 L378.41,265.08 L378.75,265.84 L379.10,267.48 L379.46,268.49 L379.82,269.84 L380.17,271.02 L380.53,272.92 L380.89,273.03 L381.25,274.93 L381.61,276.01 L381.97,277.42 L382.33,278.38 L382.68,279.94 L383.04,280.71 L383.40,282.54 L383.76,283.56 L384.12,285.00 L384.48,285.82 L384.84,287.47 L385.21,288.12 L385.57,289.99 L385.94,290.89 L386.31,292.82 L386.68,293.47 L387.05,294.81 L387.42,295.78 L387.79,297.36 L388.14,298.77 L388.47,300.29 L388.79,300.63 L389.13,302.65 L389.49,303.53 L389.90,304.78 L390.38,305.37 L390.97,307.32 L391.67,307.96 L392.46,309.62 L393.31,310.44 L394.19,311.37 L395.07,311.87 L395.89,313.09 L396.66,313.37 L397.47,315.74 L398.39,315.05 L399.38,318.91 L400.39,317.62 L401.41,318.76 L402.44,317.88 L403.49,321.27 L404.54,319.11 L405.61,323.23 L406.70,324.23 L407.80,322.45 L408.93,323.15 L410.09,324.59 L411.28,324.34 L412.49,325.88 L413.71,325.35 L414.94,328.15 L416.17,326.49 L417.39,326.99 L418.61,326.11 L419.81,329.66 L421.01,327.39 L422.21,329.29 L423.41,327.07 L424.61,333.13 L425.82,328.84 L427.04,331.65 L428.27,329.84 L429.51,332.15 L430.76,326.85 L432.02,331.70 L433.28,333.04 L434.55,331.14 L435.81,332.77 L437.08,332.33 L438.35,334.45 L439.61,334.99 L440.88,334.84 L442.15,334.94 L443.42,331.51 L444.70,337.30 L445.98,336.46 L447.26,338.18 L448.54,333.60 L449.83,337.34 L451.12,334.12 L452.41,338.53 L453.70,335.97 L454.99,337.08 L456.27,335.85 L457.56,336.85 L458.84,336.02 L460.13,341.01 L461.41,336.88 L462.69,339.11 L463.98,337.44 L465.26,338.64 L466.54,336.06 L467.82,339.02 L468.50,338.91" fill="none" stroke="#111" stroke-width="1.1" stroke-linejoin="round"/>
<path d="M332.6,246.6v2.2M344.2,245.9v2.5M352.0,244.6v2.3M359.7,243.8v2.2M371.7,247.6v1.4M383.8,283.1v1.4M393.3,309.3v1.8M401.4,317.8v2.5M412.5,325.2v1.3M419.8,329.0v1.6M430.8,326.3v1.8M443.4,329.9v2.4M451.1,333.4v1.8M458.8,335.4v1.2M466.5,335.1v1.4" stroke="#333" stroke-width="0.8" fill="none"/>
<path d="M326.10,248.92 L327.40,248.35 L328.69,249.14 L329.99,248.43 L331.29,248.19 L332.58,247.50 L333.88,248.30 L335.18,248.44 L336.48,248.56 L337.77,247.96 L339.07,248.59 L340.36,247.22 L341.66,248.25 L342.95,247.91 L344.25,247.41 L345.55,247.32 L346.85,248.67 L348.14,247.99 L349.39,247.85 L350.60,247.64 L351.82,249.16 L353.10,249.13 L354.40,248.77 L355.70,249.25 L356.98,249.19 L358.21,248.35 L359.37,248.34 L360.48,247.34 L361.58,246.19 L362.61,246.25 L363.63,245.02 L364.71,243.33 L365.83,244.08 L367.07,243.16 L368.37,243.69 L369.42,243.92 L370.15,245.41 L370.75,246.00 L371.29,247.17 L371.81,248.38 L372.32,249.95 L372.83,250.75 L373.35,252.28 L373.88,253.14 L374.46,254.70 L375.08,255.61 L375.68,257.18 L376.20,257.93 L376.66,259.18 L377.06,260.10 L377.44,261.66 L377.80,262.69 L378.15,264.29 L378.49,265.24 L378.84,267.36 L379.19,267.92 L379.55,269.37 L379.91,270.82 L380.27,272.07 L380.62,272.89 L380.97,274.48 L381.33,274.83 L381.68,277.51 L382.04,277.78 L382.39,279.59 L382.75,280.10 L383.10,281.80 L383.45,282.62 L383.81,284.42 L384.16,285.24 L384.52,287.20 L384.89,287.76 L385.25,289.72 L385.62,290.40 L385.99,291.96 L386.36,292.81 L386.73,294.57 L387.10,295.27 L387.47,296.98 L387.83,297.43 L388.17,300.02 L388.49,300.34 L388.81,302.11 L389.13,302.48 L389.48,304.71 L389.87,305.36 L390.33,307.30 L390.90,307.32 L391.62,309.08 L392.44,309.82 L393.33,311.41 L394.21,310.99 L395.01,312.85 L395.68,313.08 L396.19,314.86 L396.62,316.18 L397.03,318.40 L397.49,318.09 L398.05,319.89 L398.75,320.12 L399.60,323.09 L400.54,321.95 L401.54,324.88 L402.58,323.86 L403.64,325.69 L404.73,325.04 L405.83,326.50 L406.95,328.41 L408.07,328.45 L409.21,326.60 L410.38,329.85 L411.58,329.02 L412.79,332.00 L414.01,329.09 L415.25,332.46 L416.47,329.91 L417.70,331.76 L418.91,331.89 L420.11,334.82 L421.31,332.05 L422.51,334.16 L423.71,335.32 L424.91,335.99 L426.11,333.59 L427.32,337.31 L428.53,337.09 L429.75,339.46 L430.96,336.26 L432.18,339.37 L433.40,335.12 L434.63,339.77 L435.87,338.15 L437.11,340.72 L438.36,338.66 L439.63,341.55 L440.90,339.97 L442.18,341.09 L443.46,339.82 L444.74,342.67 L446.02,338.75 L447.30,340.87 L448.57,342.66 L449.84,343.24 L451.12,338.70 L452.39,344.03 L453.66,341.22 L454.93,342.43 L456.21,341.61 L457.48,344.05 L458.75,343.36 L460.03,345.42 L461.30,342.40 L462.58,346.71 L463.85,342.85 L465.13,345.53 L466.41,347.14 L467.68,345.64 L468.50,345.26" fill="none" stroke="#111" stroke-width="1.1" stroke-linejoin="round"/>
<path d="M332.6,246.4v1.8M344.2,246.1v2.3M354.4,248.1v1.8M365.8,243.2v2.3M373.9,252.3v2.0M383.1,280.7v2.5M393.3,310.5v2.0M401.5,324.3v1.8M409.2,325.8v2.3M417.7,330.6v1.9M428.5,336.0v1.8M437.1,340.0v2.3M444.7,342.0v1.6M452.4,343.0v2.4M462.6,346.1v1.3" stroke="#333" stroke-width="0.8" fill="none"/>
<path d="M470.00,338.30 L478.00,335.19 L478.00,341.41 Z" fill="#000"/>
<line x1="477.50" y1="338.30" x2="488.80" y2="338.30" stroke="#000" stroke-width="1.4"/>
<path d="M470.00,346.50 L478.00,343.39 L478.00,349.61 Z" fill="#000"/>
<line x1="477.50" y1="346.50" x2="488.80" y2="346.50" stroke="#000" stroke-width="1.4"/>
<text x="498.4" y="345.1" font-size="10.2" font-family="'Liberation Serif', serif" font-weight="normal" text-anchor="start" stroke="#000" stroke-width="0.2">WT</text>
<text x="498.4" y="356.2" font-size="10.2" font-family="'Liberation Serif', serif" font-weight="normal" text-anchor="start" stroke="#000" stroke-width="0.2">KO</text>
<text x="44.0" y="426.2" font-size="18" font-family="'Liberation Sans', sans-serif" font-weight="bold" text-anchor="start" >E</text>
<line x1="62.30" y1="411.90" x2="62.30" y2="426.20" stroke="#000" stroke-width="1.4"/>
<path d="M58.50,425.20 L66.10,425.20 L62.30,432.10 Z" fill="#000"/>
<line x1="68.40" y1="413.00" x2="68.40" y2="429.80" stroke="#000" stroke-width="1.4"/>
<path d="M64.80,428.80 L72.00,428.80 L68.40,436.00 Z" fill="#000"/>
<line x1="52.60" y1="440.50" x2="52.60" y2="569.50" stroke="#000" stroke-width="1.15"/>
<line x1="50.80" y1="440.50" x2="53.10" y2="440.50" stroke="#000" stroke-width="1.15"/>
<line x1="50.80" y1="504.50" x2="53.10" y2="504.50" stroke="#000" stroke-width="1.15"/>
<line x1="50.80" y1="569.50" x2="53.10" y2="569.50" stroke="#000" stroke-width="1.15"/>
<line x1="60.80" y1="568.40" x2="250.20" y2="567.30" stroke="#000" stroke-width="1.15"/>
<line x1="61.30" y1="567.90" x2="61.30" y2="572.00" stroke="#000" stroke-width="1.15"/>
<line x1="99.08" y1="567.68" x2="99.08" y2="571.78" stroke="#000" stroke-width="1.15"/>
<line x1="136.86" y1="567.46" x2="136.86" y2="571.56" stroke="#000" stroke-width="1.15"/>
<line x1="174.64" y1="567.24" x2="174.64" y2="571.34" stroke="#000" stroke-width="1.15"/>
<line x1="212.42" y1="567.02" x2="212.42" y2="571.12" stroke="#000" stroke-width="1.15"/>
<line x1="250.20" y1="566.80" x2="250.20" y2="570.90" stroke="#000" stroke-width="1.15"/>
<text transform="translate(68.7,587.4) scale(0.91,1)" font-size="13.1" font-family="'Liberation Serif', serif" text-anchor="middle" stroke="#000" stroke-width="0.18">0</text>
<text transform="translate(103.6,587.4) scale(0.91,1)" font-size="13.1" font-family="'Liberation Serif', serif" text-anchor="middle" stroke="#000" stroke-width="0.18">1</text>
<text transform="translate(140.6,587.4) scale(0.91,1)" font-size="13.1" font-family="'Liberation Serif', serif" text-anchor="middle" stroke="#000" stroke-width="0.18">2</text>
<text transform="translate(179.5,587.4) scale(0.91,1)" font-size="13.1" font-family="'Liberation Serif', serif" text-anchor="middle" stroke="#000" stroke-width="0.18">3</text>
<text transform="translate(217.2,587.4) scale(0.91,1)" font-size="13.1" font-family="'Liberation Serif', serif" text-anchor="middle" stroke="#000" stroke-width="0.18">4</text>
<text transform="translate(253.6,587.4) scale(0.91,1)" font-size="13.1" font-family="'Liberation Serif', serif" text-anchor="middle" stroke="#000" stroke-width="0.18">5</text>
<text x="47.8" y="445.1" font-size="10.7" font-family="'Liberation Serif', serif" font-weight="normal" text-anchor="end" stroke="#000" stroke-width="0.2">0%</text>
<text x="49.1" y="508.1" font-size="10.7" font-family="'Liberation Serif', serif" font-weight="normal" text-anchor="end" stroke="#000" stroke-width="0.2">50%</text>
<text x="48.3" y="574.3" font-size="10.7" font-family="'Liberation Serif', serif" font-weight="normal" text-anchor="end" stroke="#000" stroke-width="0.2">100%</text>
<text x="60.5" y="561.7" font-size="12.75" font-family="'Liberation Serif', serif" font-weight="bold" text-anchor="start" >Thrombin 0.1 U/ml</text>
<line x1="77.00" y1="435.50" x2="77.00" y2="441.00" stroke="#222" stroke-width="0.9"/>
<path d="M61.50,441.44 L62.80,441.51 L64.10,441.51 L65.40,441.10 L66.70,441.76 L68.00,440.99 L69.30,441.41 L70.59,441.19 L71.89,441.27 L73.19,439.98 L74.48,441.31 L75.78,440.54 L77.08,441.11 L78.38,441.27 L79.68,441.23 L80.98,440.97 L82.27,441.31 L83.56,441.18 L84.71,441.25 L85.56,441.96 L86.33,443.33 L87.05,444.19 L87.75,445.24 L88.44,446.84 L89.10,447.68 L89.75,448.49 L90.37,450.27 L90.97,450.66 L91.56,452.61 L92.14,452.92 L92.71,454.69 L93.27,455.46 L93.82,456.67 L94.37,457.87 L94.92,459.07 L95.45,460.42 L95.97,461.90 L96.48,462.63 L96.98,464.20 L97.47,465.01 L97.95,466.72 L98.41,467.57 L98.85,469.10 L99.29,469.62 L99.72,471.23 L100.15,472.45 L100.59,473.69 L101.04,475.21 L101.48,475.96 L101.92,476.91 L102.38,478.88 L102.85,479.65 L103.33,481.24 L103.82,481.72 L104.31,483.87 L104.82,484.57 L105.34,486.15 L105.87,486.16 L106.41,488.26 L106.96,489.27 L107.52,491.20 L108.09,491.57 L108.70,492.56 L109.34,494.45 L110.03,495.45 L110.76,495.67 L111.56,497.40 L112.42,497.95 L113.37,499.14 L114.40,499.83 L115.48,500.72 L116.56,501.16 L117.60,501.85 L118.61,502.53 L119.61,504.04 L120.61,504.36 L121.62,506.06 L122.67,504.75 L123.74,507.67 L124.82,507.22 L125.91,509.31 L127.02,507.29 L128.15,512.62 L129.31,509.51 L130.49,512.15 L131.69,511.35 L132.91,511.42 L134.14,511.34 L135.38,512.97 L136.63,512.70 L137.87,515.03 L139.12,513.94 L140.37,516.84 L141.64,514.53 L142.90,516.95 L144.15,513.26 L145.40,515.45 L146.62,517.67 L147.83,516.77 L149.02,518.35 L150.19,519.04 L151.37,517.78 L152.56,519.16 L153.75,517.40 L154.94,519.52 L156.14,521.59 L157.33,522.49 L158.53,520.22 L159.72,521.41 L160.91,520.94 L162.11,524.32 L163.30,524.05 L164.50,526.38 L165.70,520.76 L166.91,527.24 L168.12,519.05 L169.34,527.98 L170.56,522.37 L171.79,527.47 L173.03,527.22 L174.28,527.44 L175.53,522.83 L176.78,530.51 L178.04,524.93 L179.31,529.02 L180.57,530.18 L181.84,528.15 L183.12,528.65 L184.39,530.73 L185.67,528.81 L186.94,531.68 L188.22,530.32 L189.50,531.57 L190.78,531.11 L192.06,534.50 L193.35,530.14 L194.64,532.61 L195.92,530.53 L197.21,533.58 L198.50,530.49 L199.79,535.48 L201.09,529.92 L202.38,532.55 L203.67,529.94 L204.96,532.06 L206.25,532.96 L207.54,533.30 L208.83,531.25 L210.12,535.91 L211.40,531.71 L212.69,536.30 L213.98,532.89 L215.27,534.43 L216.56,530.98 L217.85,537.31 L219.14,536.29 L220.43,536.01 L221.72,531.37 L223.01,536.22 L224.30,532.80 L225.60,536.02 L226.89,533.77 L228.19,537.88 L229.48,534.15 L230.78,538.12 L232.08,535.08 L233.37,537.90 L234.67,532.84 L235.97,534.29 L237.27,535.23 L237.70,536.57" fill="none" stroke="#111" stroke-width="1.1" stroke-linejoin="round"/>
<path d="M68.0,440.5v1.4M79.7,440.7v1.7M91.0,449.3v2.5M97.5,464.1v1.5M108.1,490.7v1.3M115.5,499.3v2.6M124.8,505.8v2.3M131.7,510.4v1.5M144.2,512.5v2.4M153.7,516.6v1.6M160.9,520.2v2.3M169.3,527.0v1.5M178.0,524.3v1.6M186.9,530.6v1.9M195.9,529.3v2.2M205.0,531.1v1.5M214.0,532.0v1.8M225.6,534.5v2.2M233.4,537.1v1.6" stroke="#333" stroke-width="0.8" fill="none"/>
<path d="M61.50,441.55 L62.80,441.27 L64.10,442.43 L65.40,441.49 L66.70,441.66 L68.00,441.13 L69.30,442.01 L70.59,441.12 L71.89,441.50 L73.19,441.02 L74.49,441.41 L75.78,440.31 L77.08,441.05 L78.37,440.75 L79.67,440.80 L80.97,440.43 L82.26,440.80 L83.56,440.00 L84.85,440.42 L86.13,439.94 L87.15,439.31 L88.19,438.75 L89.07,440.15 L89.78,440.65 L90.43,442.30 L91.05,442.88 L91.65,444.44 L92.23,445.51 L92.81,446.96 L93.39,447.87 L93.96,449.08 L94.51,449.76 L95.05,451.57 L95.58,452.34 L96.10,453.90 L96.61,455.24 L97.11,456.32 L97.59,457.19 L98.05,458.77 L98.48,459.61 L98.90,461.14 L99.30,462.08 L99.68,463.98 L100.05,464.89 L100.39,466.08 L100.70,467.49 L100.95,468.83 L101.14,469.25 L101.29,471.37 L101.46,472.40 L101.69,473.94 L101.98,475.07 L102.31,476.30 L102.67,477.34 L103.06,479.57 L103.49,479.10 L103.96,481.08 L104.46,481.92 L104.98,484.12 L105.51,484.54 L106.04,485.74 L106.56,486.33 L107.07,488.44 L107.58,489.47 L108.08,490.50 L108.59,490.78 L109.11,493.39 L109.64,493.93 L110.17,495.84 L110.71,496.84 L111.25,498.53 L111.81,498.84 L112.39,500.31 L112.99,500.97 L113.61,502.56 L114.26,502.95 L114.93,505.66 L115.64,505.37 L116.38,507.24 L117.13,507.45 L117.90,509.29 L118.70,509.99 L119.54,512.01 L120.44,511.55 L121.41,512.59 L122.44,513.98 L123.53,515.04 L124.67,513.38 L125.84,515.49 L127.04,515.97 L128.28,516.59 L129.53,516.54 L130.79,517.94 L132.05,516.45 L133.31,518.65 L134.56,517.74 L135.78,519.71 L136.98,517.76 L138.17,521.59 L139.38,519.18 L140.60,520.41 L141.85,520.70 L143.09,522.00 L144.35,519.88 L145.60,523.52 L146.85,522.39 L148.10,524.54 L149.35,523.25 L150.59,523.18 L151.83,522.43 L153.07,523.18 L154.29,525.35 L155.51,526.63 L156.73,525.14 L157.93,525.88 L159.14,524.65 L160.34,528.66 L161.54,523.13 L162.75,530.64 L163.95,527.59 L165.16,530.88 L166.37,527.65 L167.58,528.47 L168.80,530.39 L170.03,531.94 L171.26,528.31 L172.50,533.00 L173.74,530.44 L174.99,531.41 L176.25,528.48 L177.51,532.92 L178.77,531.07 L180.03,532.30 L181.30,528.84 L182.57,535.48 L183.84,531.88 L185.11,536.73 L186.39,534.70 L187.67,535.81 L188.95,534.59 L190.23,534.79 L191.51,532.71 L192.80,536.95 L194.09,534.22 L195.38,534.40 L196.67,534.81 L197.97,537.19 L199.26,536.95 L200.55,538.22 L201.85,537.32 L203.14,534.41 L204.43,536.54 L205.73,538.80 L207.02,534.66 L208.31,537.84 L209.60,537.11 L210.89,540.81 L212.18,536.56 L213.47,541.99 L214.76,536.09 L216.05,538.99 L217.34,532.09 L218.63,539.99 L219.92,537.81 L221.22,537.71 L222.51,538.24 L223.80,540.53 L225.10,540.12 L226.40,539.07 L227.70,535.60 L228.99,536.77 L230.29,536.56 L231.59,540.32 L232.89,534.32 L234.19,537.85 L235.49,537.79 L236.79,541.08 L237.70,537.96" fill="none" stroke="#111" stroke-width="1.1" stroke-linejoin="round"/>
<path d="M68.0,439.9v2.1M75.8,439.5v2.2M86.1,438.9v1.8M94.0,448.3v1.4M102.7,476.5v2.2M111.8,498.0v2.4M121.4,511.0v2.4M128.3,515.5v1.7M138.2,520.8v2.4M146.9,521.6v1.2M153.1,522.4v1.5M159.1,523.8v1.7M166.4,526.3v2.3M175.0,530.2v2.3M185.1,536.0v2.6M194.1,532.7v2.4M201.8,536.5v1.9M210.9,539.5v2.1M221.2,537.0v1.7M231.6,539.9v1.3" stroke="#333" stroke-width="0.8" fill="none"/>
<path d="M241.00,536.90 L249.00,533.45 L249.00,540.35 Z" fill="#000"/>
<line x1="248.50" y1="536.90" x2="261.00" y2="536.90" stroke="#000" stroke-width="1.4"/>
<path d="M241.00,543.00 L249.00,539.55 L249.00,546.45 Z" fill="#000"/>
<line x1="248.50" y1="543.00" x2="261.00" y2="543.00" stroke="#000" stroke-width="1.4"/>
<text x="265.7" y="540.0" font-size="10.2" font-family="'Liberation Serif', serif" font-weight="normal" text-anchor="start" stroke="#000" stroke-width="0.2">WT</text>
<text x="265.3" y="554.8" font-size="10.2" font-family="'Liberation Serif', serif" font-weight="normal" text-anchor="start" stroke="#000" stroke-width="0.2">KO</text>
<text x="314.0" y="426.6" font-size="18" font-family="'Liberation Sans', sans-serif" font-weight="bold" text-anchor="start" >F</text>
<line x1="353.50" y1="408.00" x2="353.50" y2="424.00" stroke="#000" stroke-width="1.4"/>
<path d="M349.40,423.00 L357.60,423.00 L353.50,429.60 Z" fill="#000"/>
<line x1="346.90" y1="409.20" x2="346.90" y2="424.00" stroke="#000" stroke-width="1.4"/>
<path d="M343.30,423.00 L350.50,423.00 L346.90,430.40 Z" fill="#000"/>
<line x1="316.90" y1="436.50" x2="316.90" y2="570.40" stroke="#000" stroke-width="1.15"/>
<line x1="315.10" y1="436.50" x2="317.40" y2="436.50" stroke="#000" stroke-width="1.15"/>
<line x1="315.10" y1="503.00" x2="317.40" y2="503.00" stroke="#000" stroke-width="1.15"/>
<line x1="315.10" y1="570.40" x2="317.40" y2="570.40" stroke="#000" stroke-width="1.15"/>
<line x1="326.80" y1="568.60" x2="513.10" y2="567.30" stroke="#000" stroke-width="1.15"/>
<line x1="327.30" y1="568.10" x2="327.30" y2="572.20" stroke="#000" stroke-width="1.15"/>
<line x1="364.46" y1="567.84" x2="364.46" y2="571.94" stroke="#000" stroke-width="1.15"/>
<line x1="401.62" y1="567.58" x2="401.62" y2="571.68" stroke="#000" stroke-width="1.15"/>
<line x1="438.78" y1="567.32" x2="438.78" y2="571.42" stroke="#000" stroke-width="1.15"/>
<line x1="475.94" y1="567.06" x2="475.94" y2="571.16" stroke="#000" stroke-width="1.15"/>
<line x1="513.10" y1="566.80" x2="513.10" y2="570.90" stroke="#000" stroke-width="1.15"/>
<text transform="translate(334.3,587.7) scale(0.91,1)" font-size="13.1" font-family="'Liberation Serif', serif" text-anchor="middle" stroke="#000" stroke-width="0.18">0</text>
<text transform="translate(368.8,587.7) scale(0.91,1)" font-size="13.1" font-family="'Liberation Serif', serif" text-anchor="middle" stroke="#000" stroke-width="0.18">1</text>
<text transform="translate(404.2,587.7) scale(0.91,1)" font-size="13.1" font-family="'Liberation Serif', serif" text-anchor="middle" stroke="#000" stroke-width="0.18">2</text>
<text transform="translate(443.4,587.7) scale(0.91,1)" font-size="13.1" font-family="'Liberation Serif', serif" text-anchor="middle" stroke="#000" stroke-width="0.18">3</text>
<text transform="translate(480.3,587.7) scale(0.91,1)" font-size="13.1" font-family="'Liberation Serif', serif" text-anchor="middle" stroke="#000" stroke-width="0.18">4</text>
<text transform="translate(516.5,587.7) scale(0.91,1)" font-size="13.1" font-family="'Liberation Serif', serif" text-anchor="middle" stroke="#000" stroke-width="0.18">5</text>
<text x="325.8" y="561.8" font-size="12.75" font-family="'Liberation Serif', serif" font-weight="bold" text-anchor="start" >Thrombin 1 U/ml</text>
<path d="M327.20,438.17 L328.50,437.31 L329.80,437.80 L331.10,436.94 L332.40,437.44 L333.70,436.98 L335.00,437.59 L336.30,437.31 L337.60,438.14 L338.90,436.96 L340.20,438.12 L341.49,437.52 L342.79,437.97 L344.08,437.60 L345.38,438.06 L346.68,438.03 L347.97,438.28 L349.26,437.85 L350.06,437.08 L350.52,435.87 L351.00,434.56 L351.53,433.06 L352.41,432.53 L353.61,431.75 L354.89,431.76 L356.19,431.32 L357.48,431.70 L358.78,431.17 L360.08,431.28 L361.38,431.23 L362.66,431.41 L363.95,430.83 L365.25,431.06 L366.54,430.88 L367.78,431.86 L368.86,432.05 L369.77,433.44 L370.56,434.26 L371.29,435.51 L371.98,435.63 L372.69,437.80 L373.42,438.33 L374.15,439.84 L374.84,439.96 L375.50,441.67 L376.12,442.43 L376.71,443.80 L377.27,445.14 L377.81,446.73 L378.33,447.37 L378.83,449.12 L379.33,450.09 L379.81,451.46 L380.28,452.20 L380.75,454.00 L381.18,454.41 L381.60,456.47 L381.99,457.31 L382.38,458.64 L382.79,459.57 L383.23,461.08 L383.81,462.12 L384.51,463.28 L385.02,464.40 L385.32,465.80 L385.51,466.16 L385.67,468.45 L385.83,469.26 L386.04,471.14 L386.32,471.60 L386.71,474.01 L387.16,474.44 L387.66,475.97 L388.19,476.62 L388.73,478.41 L389.27,479.39 L389.78,480.27 L390.28,481.36 L390.79,483.06 L391.29,483.97 L391.80,485.23 L392.31,486.69 L392.84,487.60 L393.39,488.75 L393.98,490.74 L394.64,490.75 L395.40,492.21 L396.18,492.86 L396.91,494.67 L397.65,495.21 L398.47,496.97 L399.40,496.71 L400.43,498.26 L401.53,498.73 L402.66,500.20 L403.82,500.00 L404.98,500.68 L406.15,500.43 L407.31,502.11 L408.46,502.02 L409.59,503.05 L410.68,503.23 L411.75,504.76 L412.84,504.82 L413.96,506.60 L415.12,505.14 L416.31,507.02 L417.53,507.93 L418.77,508.47 L420.01,506.62 L421.27,509.39 L422.52,508.30 L423.79,510.60 L425.05,509.18 L426.31,510.81 L427.58,508.84 L428.85,511.17 L430.12,511.46 L431.39,510.58 L432.66,510.81 L433.93,512.08 L435.19,511.16 L436.46,512.70 L437.73,512.01 L439.00,512.87 L440.28,513.02 L441.55,513.86 L442.82,513.34 L444.10,514.49 L445.37,513.81 L446.65,513.22 L447.92,513.38 L449.20,515.37 L450.48,514.34 L451.76,515.85 L453.04,515.38 L454.32,517.34 L455.61,515.19 L456.89,516.83 L458.17,514.92 L459.46,516.11 L460.75,515.85 L462.03,516.55 L463.32,515.44 L464.61,517.06 L465.89,514.54 L467.18,518.49 L468.47,517.17 L469.76,516.97 L471.05,517.76 L472.34,519.57 L473.63,518.00 L474.92,519.07 L476.21,518.19 L477.50,519.53 L478.79,519.43 L480.08,519.54 L481.00,517.92" fill="none" stroke="#111" stroke-width="1.1" stroke-linejoin="round"/>
<path d="M332.4,436.8v2.0M341.5,436.8v1.6M348.0,437.2v2.0M358.8,430.1v2.5M368.9,431.3v1.8M380.3,450.7v2.2M391.3,483.1v2.5M397.6,494.5v1.5M408.5,501.1v1.8M420.0,505.9v1.3M426.3,509.9v1.5M436.5,512.0v1.8M447.9,512.9v1.6M455.6,514.4v1.2M463.3,514.5v2.6M472.3,518.7v2.0M481.0,517.3v1.3" stroke="#333" stroke-width="0.8" fill="none"/>
<path d="M327.20,437.23 L328.50,437.39 L329.80,437.86 L331.10,437.08 L332.40,437.82 L333.70,436.87 L335.00,437.31 L336.30,436.52 L337.60,437.50 L338.90,437.59 L340.20,437.81 L341.50,437.46 L342.79,437.43 L344.09,437.37 L345.39,437.75 L346.69,437.91 L347.99,438.07 L349.27,438.09 L350.41,439.21 L351.53,438.99 L352.82,440.00 L354.10,438.92 L355.24,439.06 L356.22,437.61 L357.14,437.11 L358.00,435.76 L358.83,434.92 L359.65,433.68 L360.50,433.04 L361.43,431.39 L362.60,431.82 L363.68,432.03 L364.37,433.38 L364.91,433.93 L365.45,435.66 L365.97,436.70 L366.48,438.11 L366.99,438.94 L367.50,440.71 L368.00,441.90 L368.50,443.04 L369.01,443.47 L369.53,445.69 L370.05,445.97 L370.56,447.98 L371.08,448.78 L371.60,449.98 L372.12,450.66 L372.63,452.44 L373.15,453.45 L373.65,454.74 L374.15,456.00 L374.65,457.36 L375.15,458.23 L375.65,459.86 L376.16,460.89 L376.68,462.49 L377.23,463.19 L377.82,464.67 L378.45,465.74 L379.05,466.61 L379.59,467.61 L380.06,469.57 L380.51,469.93 L380.95,471.08 L381.43,472.18 L381.94,473.95 L382.48,474.92 L383.02,476.29 L383.58,476.87 L384.16,478.59 L384.77,479.07 L385.41,481.13 L386.11,481.77 L386.86,483.47 L387.65,483.85 L388.47,485.18 L389.31,485.70 L390.16,486.80 L391.01,487.76 L391.88,489.71 L392.79,489.83 L393.72,490.91 L394.65,491.65 L395.56,493.28 L396.46,493.06 L397.37,494.51 L398.30,495.21 L399.26,496.78 L400.24,496.73 L401.24,498.81 L402.26,498.54 L403.29,499.79 L404.32,500.12 L405.35,502.00 L406.37,501.33 L407.39,503.92 L408.39,502.87 L409.37,504.46 L410.29,504.79 L411.17,505.56 L412.04,506.28 L412.93,508.88 L413.86,508.67 L414.84,510.67 L415.89,510.40 L416.98,512.55 L418.12,512.02 L419.28,513.33 L420.45,511.84 L421.64,514.55 L422.83,514.74 L424.04,514.70 L425.25,514.84 L426.46,515.72 L427.68,516.14 L428.90,518.76 L430.13,517.32 L431.36,518.00 L432.59,517.08 L433.82,518.77 L435.06,518.06 L436.30,519.32 L437.54,518.03 L438.79,520.10 L440.05,519.84 L441.31,522.15 L442.57,519.45 L443.83,522.29 L445.09,521.05 L446.36,521.58 L447.63,521.32 L448.90,523.09 L450.17,522.40 L451.43,523.39 L452.70,522.40 L453.97,524.00 L455.25,523.31 L456.52,524.44 L457.79,523.13 L459.07,524.83 L460.35,524.77 L461.62,525.88 L462.90,525.12 L464.18,525.42 L465.46,524.75 L466.73,526.32 L468.01,525.92 L469.29,526.12 L470.57,525.17 L471.84,527.70 L473.12,526.12 L474.40,527.86 L475.68,527.81 L476.96,529.59 L478.23,527.23 L479.51,529.22 L480.79,527.57 L481.00,528.87" fill="none" stroke="#111" stroke-width="1.1" stroke-linejoin="round"/>
<path d="M333.7,436.1v1.6M341.5,436.7v1.6M351.5,437.8v1.9M358.8,433.4v2.3M367.0,438.1v1.3M377.8,463.4v1.9M385.4,479.9v2.2M394.6,490.9v2.3M403.3,498.5v1.9M414.8,510.0v1.3M422.8,513.5v1.7M431.4,517.1v1.3M438.8,519.3v2.0M451.4,522.0v2.3M459.1,523.7v1.7M468.0,525.1v1.4M475.7,527.1v2.0" stroke="#333" stroke-width="0.8" fill="none"/>
<path d="M481.50,519.00 L489.20,515.89 L489.20,522.11 Z" fill="#000"/>
<line x1="488.70" y1="519.00" x2="500.00" y2="519.00" stroke="#000" stroke-width="1.4"/>
<path d="M481.50,526.00 L489.20,522.89 L489.20,529.11 Z" fill="#000"/>
<line x1="488.70" y1="526.00" x2="500.00" y2="526.00" stroke="#000" stroke-width="1.4"/>
<text x="502.0" y="522.3" font-size="10.2" font-family="'Liberation Serif', serif" font-weight="normal" text-anchor="start" stroke="#000" stroke-width="0.2">WT</text>
<text x="503.0" y="535.5" font-size="10.2" font-family="'Liberation Serif', serif" font-weight="normal" text-anchor="start" stroke="#000" stroke-width="0.2">KO</text>
<text x="264.0" y="619.3" font-size="16.9" font-family="'Liberation Serif', serif" font-weight="normal" text-anchor="middle" stroke="#000" stroke-width="0.25">Time (minutes)</text>
<text transform="translate(13.3,316.2) rotate(-90)" font-size="17" font-family="'Liberation Serif', serif" text-anchor="middle" stroke="#000" stroke-width="0.25">% Light transmission</text>
</svg>
</body></html>
